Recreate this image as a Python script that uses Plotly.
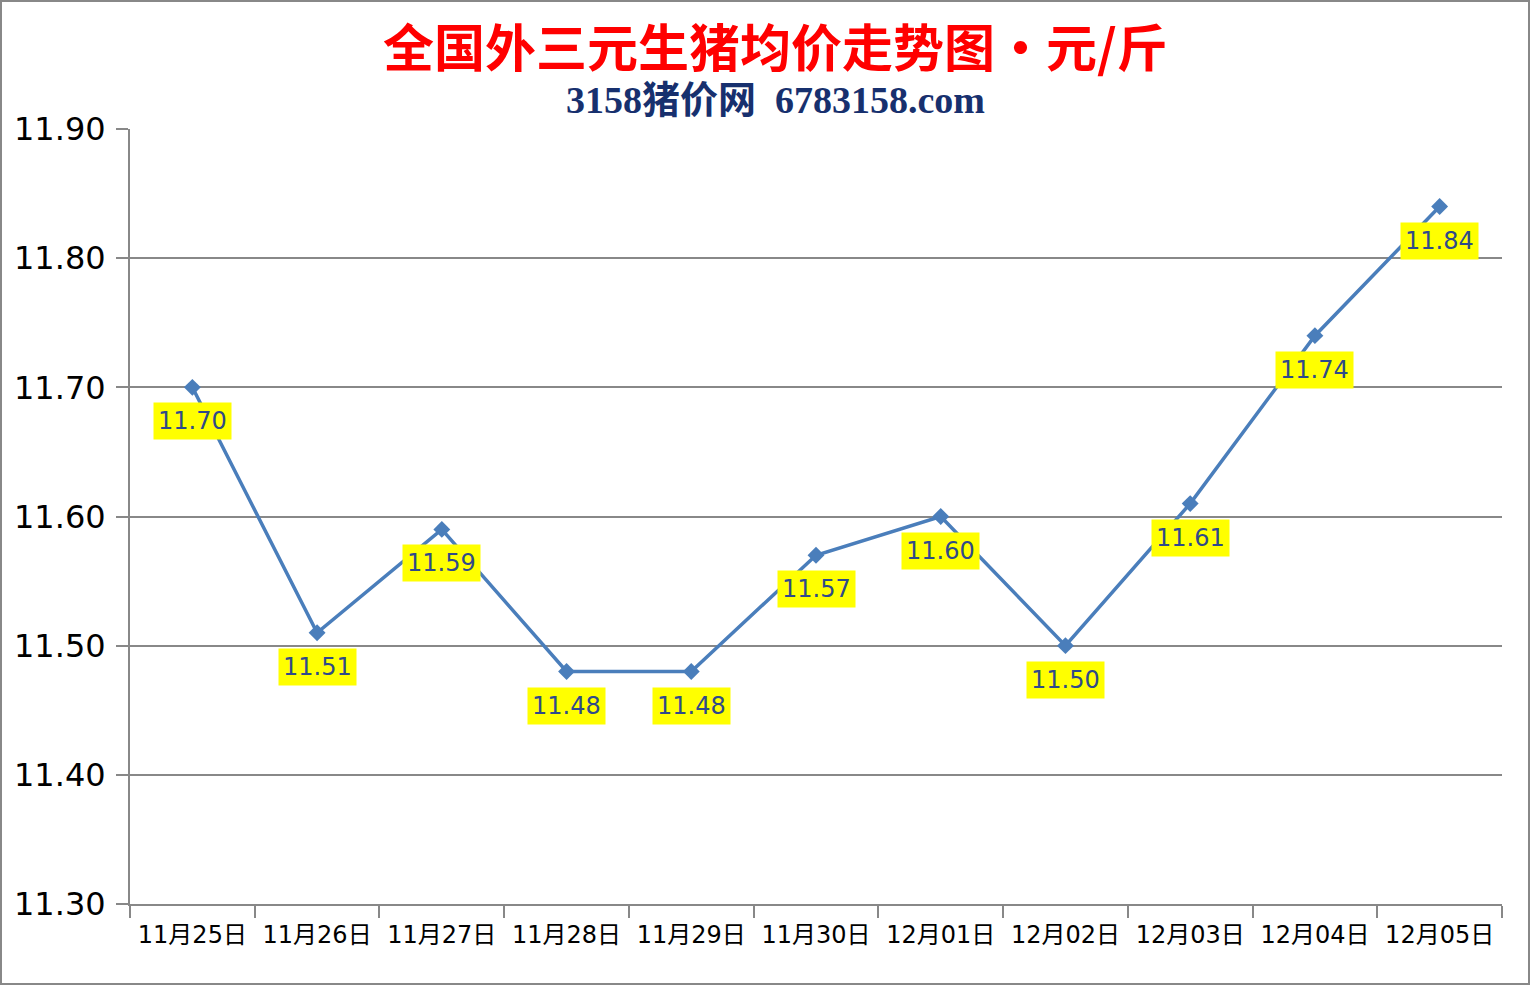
import plotly.graph_objects as go

categories = ["11月25日", "11月26日", "11月27日", "11月28日", "11月29日", "11月30日",
              "12月01日", "12月02日", "12月03日", "12月04日", "12月05日"]
prices = [11.70, 11.51, 11.59, 11.48, 11.48, 11.57, 11.60, 11.50, 11.61, 11.74, 11.84]
y_ticks = [11.30, 11.40, 11.50, 11.60, 11.70, 11.80, 11.90]
y_tick_labels = ["11.30", "11.40", "11.50", "11.60", "11.70", "11.80", "11.90"]

title_text = "全国外三元生猪均价走势图・元/斤"
subtitle_text = "3158猪价网&nbsp;&nbsp;6783158.com"

W, H = 1531, 985
ML, MR, MT, MB = 130, 29, 129, 81
PW, PH = W - ML - MR, H - MT - MB

fig = go.Figure()
fig.add_trace(go.Scatter(
    x=categories, y=prices, mode="lines+markers",
    line=dict(color="#4a7ebb", width=3.5),
    marker=dict(symbol="diamond", size=13, color="#4a7ebb"),
    hoverinfo="skip", showlegend=False,
))

annotations = []
for c, v in zip(categories, prices):
    annotations.append(dict(
        x=c, y=v, xref="x", yref="y", text=f"{v:.2f}", showarrow=False,
        yshift=-34, bgcolor="#ffff00", borderpad=4,
        font=dict(family="DejaVu Sans, Noto Sans CJK SC", size=24, color="#2f4a8a"),
    ))
annotations.append(dict(
    x=(775 - ML) / PW, y=(H - 45 - MB) / PH, xref="paper", yref="paper", text=f"<b>{title_text}</b>",
    showarrow=False, xanchor="center", yanchor="middle",
    font=dict(family="Noto Sans CJK SC", size=51, color="#ff0000"),
))
annotations.append(dict(
    x=(775 - ML) / PW, y=(H - 100 - MB) / PH, xref="paper", yref="paper", text=f"<b>{subtitle_text}</b>",
    showarrow=False, xanchor="center", yanchor="middle",
    font=dict(family="Liberation Serif, Noto Sans CJK SC", size=38, color="#17306e"),
))

fig.update_layout(
    width=W, height=H,
    margin=dict(l=ML, r=MR, t=MT, b=MB, pad=0),
    paper_bgcolor="white", plot_bgcolor="white",
    annotations=annotations,
    xaxis=dict(
        type="category", range=[-0.5, len(categories) - 0.5],
        tickson="boundaries", ticks="outside", ticklen=12, tickwidth=2, tickcolor="#888888",
        showgrid=False, showline=True, linecolor="#888888", linewidth=2,
        tickfont=dict(family="DejaVu Sans, Noto Sans CJK SC", size=24, color="#000000"),
        ticklabelstandoff=8,
        zeroline=False, fixedrange=True,
    ),
    yaxis=dict(
        range=[11.30, 11.90], tickvals=y_ticks, ticktext=y_tick_labels,
        ticks="outside", ticklen=12, tickwidth=2, tickcolor="#888888",
        showgrid=True, gridcolor="#888888", gridwidth=1.5,
        showline=True, linecolor="#888888", linewidth=2,
        tickfont=dict(family="DejaVu Sans", size=32, color="#000000"),
        ticklabelstandoff=4,
        zeroline=False, fixedrange=True,
    ),
    shapes=[dict(
        type="rect", xref="paper", yref="paper",
        x0=(1 - ML) / PW, x1=(W - 2 - ML) / PW,
        y0=(H - 984 - MB) / PH, y1=(H - 1 - MB) / PH,
        line=dict(color="#888888", width=2), fillcolor="rgba(0,0,0,0)", layer="below",
    )],
)

fig.write_html("out.html", config={"displayModeBar": False})
